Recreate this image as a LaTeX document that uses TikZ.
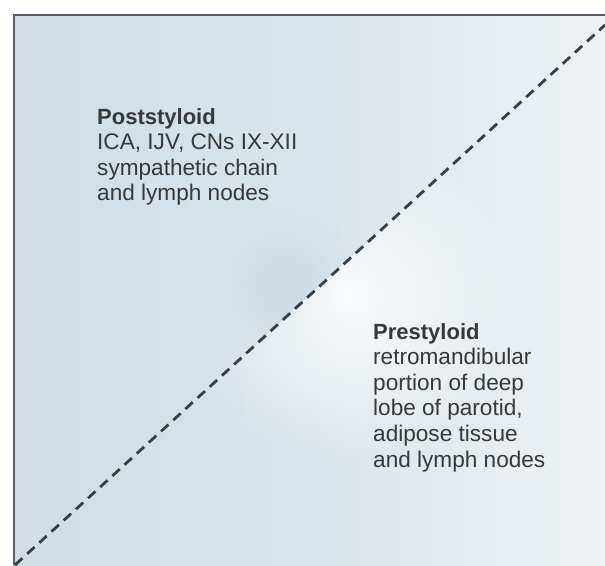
\documentclass[tikz,border=0pt]{standalone}
\usepackage{fontspec}
\setmainfont{Liberation Sans}
\usetikzlibrary{fadings}
\definecolor{bgleft}{HTML}{CFDDE6}
\definecolor{bgmid}{HTML}{DAE4EA}
\definecolor{bgright}{HTML}{EEF2F5}
\definecolor{bgspot}{HTML}{B5C7D2}
\definecolor{framecol}{HTML}{565F69}
\definecolor{dashcol}{HTML}{3A3F45}
\definecolor{txtcol}{HTML}{383838}
\tikzfading[name=softglow, inner color=transparent!0, outer color=transparent!100]
\tikzset{
  label text/.style={anchor=north west, inner sep=0pt, align=left, text=txtcol,
    font=\fontsize{22.6}{25.6}\selectfont},
  divider/.style={draw=dashcol, line width=2.8pt, dash pattern=on 10pt off 6.5pt},
  frameline/.style={draw=framecol, line width=2.2pt}
}
\newcommand{\headtxt}[1]{{\fontsize{22}{25.6}\selectfont\bfseries #1}}
\begin{document}
\begin{tikzpicture}[x=1pt,y=-1pt]
\useasboundingbox (0,0) rectangle (605,565);
% background
\shade[left color=bgleft, right color=bgright, middle color=bgmid] (13,15) rectangle (605,565);
% faint darker spot near the centre, upper-left side
\fill[bgspot, opacity=0.35, path fading=softglow] (290,285) circle (75);
% soft whitish glow on the lower-right side of the divider
\begin{scope}
  \clip (15,565) -- (605,25) -- (605,565) -- cycle;
  \fill[white, opacity=0.85, path fading=softglow] (345,295) circle (170);
\end{scope}
% frame
\draw[frameline] (14,565) -- (14,15) -- (605,15);
% divider
\coordinate (dl) at (15,565);
\coordinate (dr) at (605,25);
\draw[divider] (dl) -- (dr);
% labels
\node[label text] (post) at (97,108) {\headtxt{Poststyloid}\\ICA, IJV, CNs IX-XII\\sympathetic chain\\and lymph nodes};
\node[label text] (pre) at (373,323) {\headtxt{Prestyloid}\\retromandibular\\portion of deep\\lobe of parotid,\\adipose tissue\\and lymph nodes};
\end{tikzpicture}
\end{document}
